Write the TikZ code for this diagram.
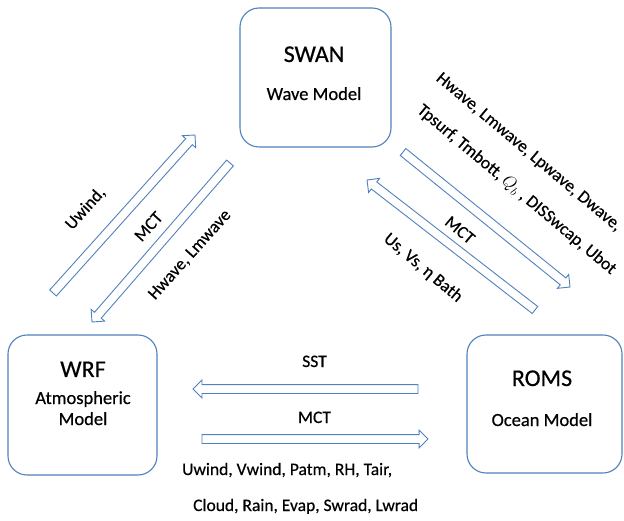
\documentclass[tikz,border=0pt]{standalone}
\usepackage{fontspec}
\setmainfont{Carlito}[UprightFeatures={FakeBold=0.5}]
\usetikzlibrary{shapes.arrows,calc}
\definecolor{boxblue}{RGB}{79,129,189}
\tikzset{
  modelbox/.style={draw=boxblue, line width=1.1pt, rounded corners=19pt, fill=white},
  title/.style={font=\fontsize{24}{28}\selectfont, inner sep=0pt, anchor=base},
  subtitle/.style={font=\fontsize{18.5}{22}\selectfont, inner sep=0pt, anchor=base},
  lbl/.style={font=\fontsize{17.5}{21}\selectfont, inner sep=0pt},
  barrow/.style={draw=boxblue, line width=0.9pt, single arrow, single arrow head extend=4.5pt,
    single arrow tip angle=90, inner xsep=0pt, inner ysep=4pt, minimum width=0pt, outer sep=0pt,
    sloped, allow upside down, anchor=tail, pos=0},
}
\newcommand\blockarrow[2]{\path let \p1=($(#2)-(#1)$), \n1={veclen(\x1,\y1)} in (#1) -- node[barrow, minimum height=\n1] {} (#2);}
\begin{document}
\begin{tikzpicture}[x=1pt,y=-1pt]
\useasboundingbox (0,0) rectangle (624,521);
% boxes
\node[modelbox, minimum width=151pt, minimum height=139pt] (swan) at (315.5,77.5) {};
\node[title] (swant) at (314,62) {SWAN};
\node[subtitle] (swans) at (314,100) {Wave Model};
\node[modelbox, minimum width=149pt, minimum height=140pt] (wrf) at (82.5,405) {};
\node[title] (wrft) at (83,377) {WRF};
\node[subtitle] (wrfs1) at (83,404) {Atmospheric};
\node[subtitle] (wrfs2) at (83,425) {Model};
\node[modelbox, minimum width=155pt, minimum height=138pt] (roms) at (544.5,404) {};
\node[title] (romst) at (542,386) {ROMS};
\node[subtitle] (romss) at (542,426) {Ocean Model};
% arrow end points
\coordinate (wsT) at (53,293);  \coordinate (wsH) at (195,135);
\coordinate (swT) at (230,163); \coordinate (swH) at (92,322);
\coordinate (soT) at (403,152); \coordinate (soH) at (570,287);
\coordinate (osT) at (535,310); \coordinate (osH) at (367,180);
\coordinate (owT) at (418,389); \coordinate (owH) at (193,389);
\coordinate (woT) at (202,439); \coordinate (woH) at (428,439);
\blockarrow{wsT}{wsH}
\blockarrow{swT}{swH}
\blockarrow{soT}{soH}
\blockarrow{osT}{osH}
\blockarrow{owT}{owH}
\blockarrow{woT}{woH}
% labels
\node[lbl, rotate=48] (l1) at (85.5,208.5) {Uwind,};
\node[lbl, rotate=48] (l2) at (148.5,226.5) {MCT};
\node[lbl, rotate=48] (l3) at (190,255) {Hwave, Lmwave};
\node[lbl, rotate=-40] (r1) at (528.5,152.5) {Hwave, Lmwave, Lpwave, Dwave,};
\node[lbl, rotate=-40] (r2) at (516.5,190) {Tpsurf, Tmbott, $Q_b$ , DISSwcap, Ubot};
\node[lbl, rotate=-40] (r3) at (460,230) {MCT};
\node[lbl, rotate=-40] (r4) at (423,268) {Us, Vs, η Bath};
\node[lbl, anchor=base] (h1) at (314.5,367) {SST};
\node[lbl, anchor=base] (h2) at (314.5,423) {MCT};
\node[lbl, anchor=base west] (h3) at (182,475) {Uwind, Vwind, Patm, RH, Tair,};
\node[lbl, anchor=base west] (h4) at (193,511) {Cloud, Rain, Evap, Swrad, Lwrad};
\end{tikzpicture}
\end{document}
